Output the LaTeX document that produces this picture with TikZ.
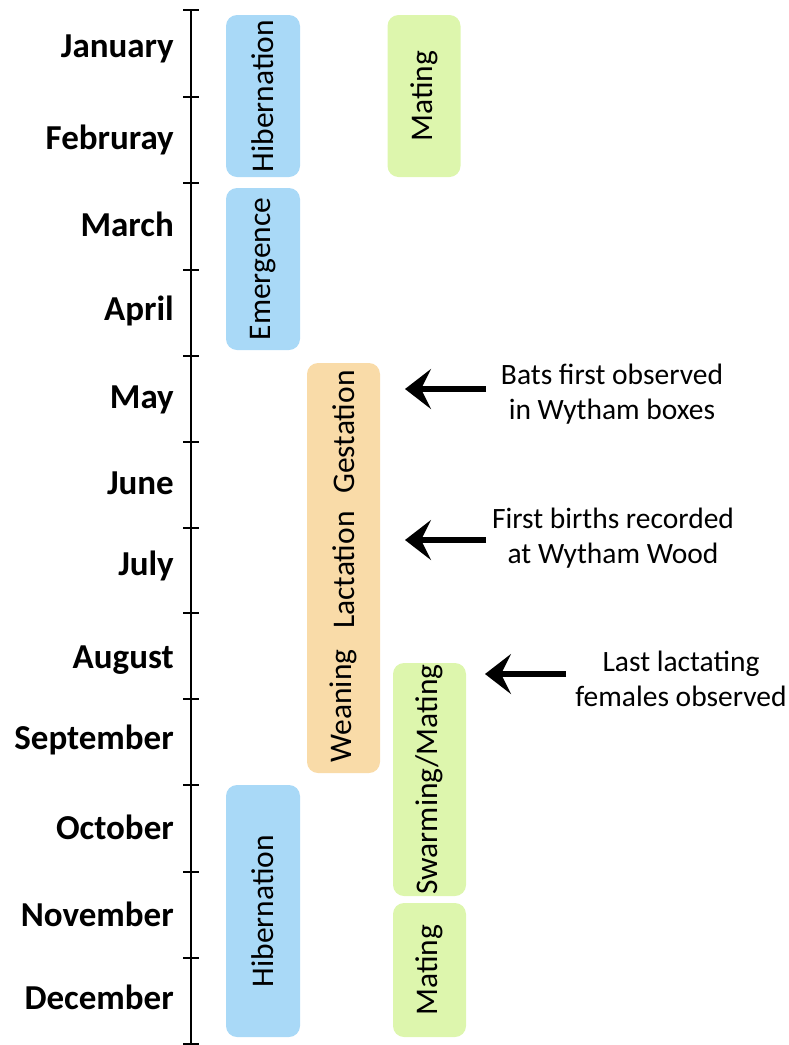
\documentclass[tikz,border=0pt]{standalone}
\usepackage{fontspec}
\setmainfont{Carlito}
\usetikzlibrary{arrows.meta}

\definecolor{hibblue}{RGB}{169,217,247}
\definecolor{matgreen}{RGB}{221,246,173}
\definecolor{reporange}{RGB}{249,219,168}

\tikzset{
  month/.style={anchor=base east, inner sep=0pt,
    font=\fontsize{35}{40}\selectfont\bfseries},
  phase/.style={rotate=90, rounded corners=11pt, inner sep=0pt,
    font=\fontsize{31.5}{36}\selectfont},
  phaselabel/.style={rotate=90, inner sep=0pt,
    font=\fontsize{31.5}{36}\selectfont},
  note/.style={align=center, inner sep=0pt,
    font=\fontsize{29.5}{34.5}\selectfont},
  arr/.style={-{Stealth[length=26pt,width=40pt,inset=10pt]}, line width=6pt},
  axis/.style={line width=1.8pt},
}

\begin{document}
\begin{tikzpicture}[x=1pt,y=-1pt]
\useasboundingbox (0,0) rectangle (788,1045);

% time axis with month ticks
\coordinate (axtop) at (191,10);
\coordinate (axbot) at (191,1044);
\draw[axis] (axtop) -- (axbot);
\foreach \ty in {10,97,183,270,356,442,528,613,699,785,872,958,1044}
  \draw[axis] (183,\ty) -- (199,\ty);

% month labels
\node[month] (jan) at (174,57)   {January};
\node[month] (feb) at (174,149)  {Februray};
\node[month] (mar) at (174,236)  {March};
\node[month] (apr) at (174,320)  {April};
\node[month] (may) at (174,408)  {May};
\node[month] (jun) at (174,494)  {June};
\node[month] (jul) at (174,575)  {July};
\node[month] (aug) at (174,668)  {August};
\node[month] (sep) at (174,749)  {September};
\node[month] (oct) at (174,839)  {October};
\node[month] (nov) at (174,926)  {November};
\node[month] (dec) at (174,1009) {December};

% activity phases
\node[phase, fill=hibblue, minimum width=162pt, minimum height=74pt]
  (hib1) at (263,96) {Hibernation};
\node[phase, fill=hibblue, minimum width=162pt, minimum height=74pt]
  (emer) at (263,269) {Emergence};
\node[phase, fill=hibblue, minimum width=252pt, minimum height=74pt]
  (hib2) at (263,911) {Hibernation};

\node[phase, fill=matgreen, minimum width=162pt, minimum height=73pt]
  (mat1) at (424,96) {Mating};
\node[phase, fill=matgreen, minimum width=233pt, minimum height=73pt]
  (swarm) at (429.5,779.5) {Swarming/Mating};
\node[phase, fill=matgreen, minimum width=134pt, minimum height=73pt]
  (mat2) at (429.5,970) {Mating};

\node[phase, fill=reporange, minimum width=410pt, minimum height=73pt]
  (repro) at (343.5,568) {};
\node[phaselabel] (gest) at (343.5,432) {Gestation};
\node[phaselabel] (lact) at (343.5,570) {Lactation};
\node[phaselabel] (wean) at (343.5,706) {Weaning};

% field observations
\node[note] (obs1) at (612,394) {Bats first observed\\in Wytham boxes};
\node[note] (obs2) at (613,538) {First births recorded\\at Wytham Wood};
\node[note] (obs3) at (681,679) {Last lactating\\females observed};

\coordinate (tail1) at (486,389);
\coordinate (tip1)  at (405,389);
\coordinate (tail2) at (486,540);
\coordinate (tip2)  at (405,540);
\coordinate (tail3) at (566,674);
\coordinate (tip3)  at (485,674);

\draw[arr] (tail1) -- (tip1);
\draw[arr] (tail2) -- (tip2);
\draw[arr] (tail3) -- (tip3);
\end{tikzpicture}
\end{document}
